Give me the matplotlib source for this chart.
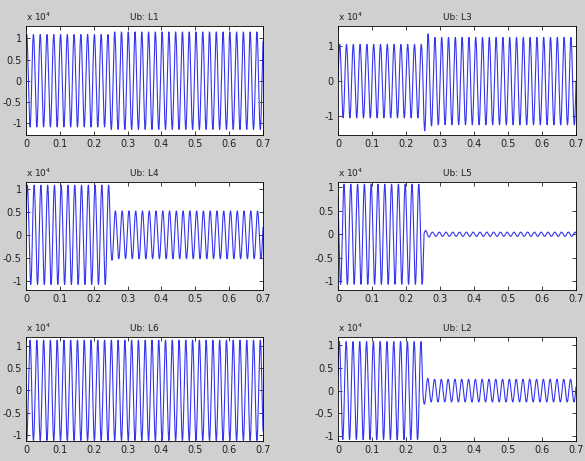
import numpy as np
import matplotlib
matplotlib.use("Agg")
import matplotlib.pyplot as plt
from matplotlib.ticker import FormatStrFormatter

plt.rcParams['font.family'] = ['Liberation Sans Narrow', 'DejaVu Sans']
plt.rcParams['axes.unicode_minus'] = False

# Panel data (voltages in V)
titles = ['Ub: L1', 'Ub: L3', 'Ub: L4', 'Ub: L5', 'Ub: L6', 'Ub: L2']
f_hz = 50.0
peak_time = [0.002, 0.005, 0.004, 0.0176, 0.012, 0.004]    # first crest, s
fault_time = [0.247, 0.250, 0.249, 0.2526, 0.250, 0.249]    # s
amp_pre = [10900, 10500, 10800, 10600, 11200, 10800]
amp_post_first = [[], [14200, 13500, 12800], [5500], [800, 600], [], [3000, 2700]]
amp_post = [11500, 12500, 5200, 450, 11200, 2500]
ylims = [(-1.28, 1.29), (-1.54, 1.575), (-1.20, 1.15),
         (-1.18, 1.106), (-1.13, 1.19), (-1.11, 1.18)]
yticks = [[-1, -0.5, 0, 0.5, 1], [-1, 0, 1], [-1, -0.5, 0, 0.5, 1],
          [-1, -0.5, 0, 0.5, 1], [-1, -0.5, 0, 0.5, 1], [-1, -0.5, 0, 0.5, 1]]
xticks = [0, 0.1, 0.2, 0.3, 0.4, 0.5, 0.6, 0.7]

t = np.arange(0, 0.7 + 1e-6, 1e-5)
half = 0.5 / f_hz


def waveform(i):
    amp = np.full_like(t, float(amp_pre[i]))
    after = t >= fault_time[i]
    k = np.floor((t[after] - fault_time[i]) / half).astype(int)
    a = np.full(k.shape, float(amp_post[i]))
    for j, v in enumerate(amp_post_first[i]):
        a[k == j] = v
    amp[after] = a
    return amp * np.cos(2 * np.pi * f_hz * (t - peak_time[i]))


fig = plt.figure(figsize=(5.85, 4.61), dpi=100, facecolor='#d0d0d0')

# axes boxes in pixels: left, right / top, bottom
W, H = 585, 461
cols = [(26, 263), (338, 576)]
rows = [(26, 135), (182, 290), (337, 441)]

for i in range(6):
    r, c = divmod(i, 2)
    x0, x1 = cols[c]
    y0, y1 = rows[r]
    ax = fig.add_axes([x0 / W, 1 - y1 / H, (x1 - x0) / W, (y1 - y0) / H])
    ax.plot(t, waveform(i) / 1e4, color='#3535f0', lw=0.8)
    ax.set_xlim(0, 0.7)
    ax.set_ylim(*ylims[i])
    ax.set_xticks(xticks)
    ax.set_yticks(yticks[i])
    ax.xaxis.set_major_formatter(FormatStrFormatter('%g'))
    ax.yaxis.set_major_formatter(FormatStrFormatter('%g'))
    ax.tick_params(direction='in', length=3, width=0.6, top=True, right=True,
                   labelsize=7, pad=3, colors='#202020')
    for s in ax.spines.values():
        s.set_linewidth(0.6)
    ax.set_title(titles[i], fontsize=6.5, pad=4, color='#202020')
    ax.text(0, 1.03, r'x 10$^{4}$', transform=ax.transAxes, fontsize=6.5,
            ha='left', va='bottom', color='#202020')

fig.savefig('out.png', dpi=100, facecolor=fig.get_facecolor())
